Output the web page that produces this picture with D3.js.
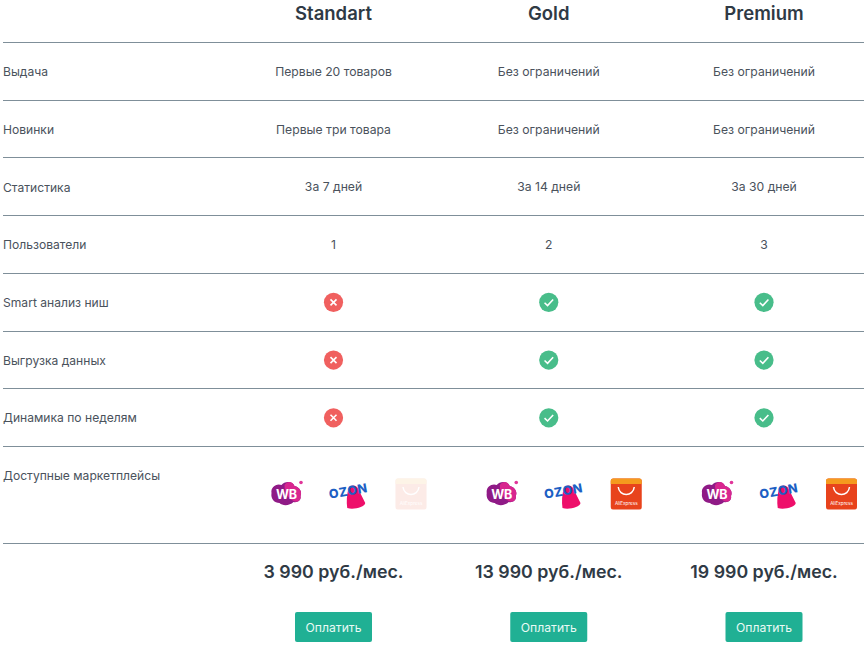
<!DOCTYPE html>
<html>
<head>
<meta charset="utf-8">
<script src="https://cdnjs.cloudflare.com/ajax/libs/d3/7.8.5/d3.min.js"></script>
<style>
  html, body { margin: 0; padding: 0; background: #fff; }
  svg { display: block; font-family: Inter, "Noto Sans", sans-serif; }
</style>
</head>
<body>
<svg id="chart" width="864" height="648"></svg>
<script>
const plans = ["Standart", "Gold", "Premium"];
const rowLabels = ["Выдача", "Новинки", "Статистика", "Пользователи", "Smart анализ ниш", "Выгрузка данных", "Динамика по неделям"];
const standartCells = ["Первые 20 товаров", "Первые три товара", "За 7 дней", "1", "no", "no", "no"];
const goldCells = ["Без ограничений", "Без ограничений", "За 14 дней", "2", "yes", "yes", "yes"];
const premiumCells = ["Без ограничений", "Без ограничений", "За 30 дней", "3", "yes", "yes", "yes"];
const marketLabel = "Доступные маркетплейсы";
const markets = ["wb", "ozon", "ali"];
const aliActive = [false, true, true];
const prices = ["3 990 руб./мес.", "13 990 руб./мес.", "19 990 руб./мес."];
const payLabel = "Оплатить";

const svg = d3.select("#chart");
const textColor = "#4a525c", headColor = "#2f3a45", lineColor = "#7f8f99";

const x = d3.scalePoint().domain(plans).range([333.5, 764]);
const y = d3.scaleLinear().domain([0, 7]).range([42.5, 446.5]);
const mx = d3.scalePoint().domain(markets).range([-47, 77.5]);
const cells = [standartCells, goldCells, premiumCells];

// rules
const rules = d3.range(0, 8).map(i => y(i)).concat([543]);
svg.selectAll("line.rule").data(rules).join("line")
  .attr("class", "rule")
  .attr("x1", 3).attr("x2", 864)
  .attr("y1", d => d).attr("y2", d => d)
  .attr("stroke", lineColor).attr("stroke-width", 1)
  .attr("shape-rendering", "crispEdges");

// header
svg.selectAll("text.plan").data(plans).join("text")
  .attr("class", "plan")
  .attr("x", d => x(d)).attr("y", 19.5)
  .attr("text-anchor", "middle")
  .attr("font-size", 18.5).attr("font-weight", 600)
  .attr("fill", headColor)
  .text(d => d);

// row labels
svg.selectAll("text.rowlabel").data(rowLabels.concat([marketLabel])).join("text")
  .attr("class", "rowlabel")
  .attr("x", 3).attr("y", (d, i) => y(i) + 33.7)
  .attr("font-size", 12.1)
  .attr("fill", textColor)
  .text(d => d);

// cells
plans.forEach((p, c) => {
  const g = svg.append("g").attr("transform", `translate(${x(p)},0)`);
  cells[c].forEach((v, i) => {
    const cy = y(i) + 29;
    if (v === "yes" || v === "no") {
      const m = g.append("g").attr("transform", `translate(0,${cy})`);
      m.append("circle").attr("r", 9.6).attr("fill", v === "yes" ? "#48bd8a" : "#f0605f");
      if (v === "yes") {
        m.append("path").attr("d", "M-4.2,0.4 L-1.2,3.2 L4.4,-2.8")
          .attr("fill", "none").attr("stroke", "#fff").attr("stroke-width", 1.6);
      } else {
        m.append("path").attr("d", "M-3,-3 L3,3 M3,-3 L-3,3")
          .attr("fill", "none").attr("stroke", "#fff").attr("stroke-width", 1.6);
      }
    } else {
      g.append("text")
        .attr("y", cy + 4.3)
        .attr("text-anchor", "middle")
        .attr("font-size", 12.2)
        .attr("fill", textColor)
        .text(v);
    }
  });

  // marketplace logos
  const logos = g.append("g").attr("transform", "translate(0,494)");
  drawWb(logos.append("g").attr("transform", `translate(${mx("wb")},0)`));
  drawOzon(logos.append("g").attr("transform", `translate(${mx("ozon")},0)`));
  drawAli(logos.append("g").attr("transform", `translate(${mx("ali")},0)`), aliActive[c]);

  // price and button
  g.append("text")
    .attr("y", 578)
    .attr("text-anchor", "middle")
    .attr("font-size", 17.8).attr("font-weight", 600)
    .attr("fill", headColor)
    .text(prices[c]);
  g.append("rect")
    .attr("x", -38.5).attr("y", 612)
    .attr("width", 77).attr("height", 30).attr("rx", 2)
    .attr("fill", "#20b094");
  g.append("text")
    .attr("y", 631.5)
    .attr("text-anchor", "middle")
    .attr("font-size", 12.2).attr("font-weight", 400)
    .attr("fill", "#eafaf5")
    .text(payLabel);
});

function drawWb(s) {
  s.append("path")
    .attr("d", "M-15,-1 C-16,-7 -10,-11 -5,-9 C-2,-13 6,-13 8,-8 C13,-7 16,-2 14,2 C15,6 11,9 7,8 C3,12 -4,12 -7,9 C-12,9 -16,5 -15,-1 Z")
    .attr("fill", "#8f1a86");
  s.append("path")
    .attr("d", "M-2,-9 C1,-13 6,-13 8,-8 C13,-7 16,-2 14,2 C15,6 11,9 7,7 C3,5 -2,0 -2,-9 Z")
    .attr("fill", "#d8268f");
  s.append("circle").attr("cx", 14.5).attr("cy", -11.5).attr("r", 1.8).attr("fill", "#e0369a");
  s.append("text").attr("y", 4.5).attr("text-anchor", "middle")
    .attr("font-size", 12.5).attr("font-weight", 700).attr("fill", "#fff").text("WB");
}

function drawOzon(s) {
  s.append("path")
    .attr("d", "M0,-6 C3,-10 8,-9 9.5,-5 L16.5,9 C16,13 5,16 -1.5,14 C-2.5,8 -2,0 0,-6 Z")
    .attr("fill", "#ee0f6a");
  s.append("text").attr("x", 0).attr("y", 1.5).attr("font-size", 12.5)
    .attr("text-anchor", "middle")
    .attr("font-weight", 800).attr("fill", "#1d5fc4")
    .attr("transform", "rotate(-10)").attr("letter-spacing", 0.5).text("OZON");
}

function drawAli(s, active) {
  const a = s.append("g").attr("opacity", active ? 1 : 0.1);
  a.append("rect").attr("x", -15.5).attr("y", -15.5).attr("width", 31).attr("height", 31).attr("rx", 2.5).attr("fill", "#e8431c");
  a.append("path").attr("d", "M-15.5,-10 V-13 Q-15.5,-15.5 -13,-15.5 H13 Q15.5,-15.5 15.5,-13 V-10 Z").attr("fill", "#f59a1e");
  a.append("path").attr("d", "M-8,-7 C-7,3 7,3 8,-7").attr("fill", "none").attr("stroke", "#fff").attr("stroke-width", 1.5);
  a.append("text").attr("y", 10.5).attr("text-anchor", "middle").attr("font-size", 4.6).attr("fill", "#fff").text("AliExpress");
}
</script>
</body>
</html>
